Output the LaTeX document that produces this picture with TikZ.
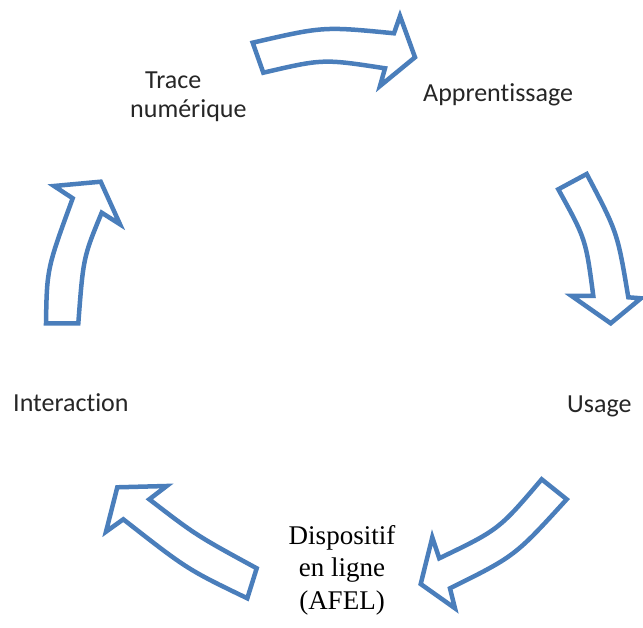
\documentclass[tikz,border=0pt]{standalone}
\usepackage{fontspec}
\setmainfont{Carlito}[Ligatures=NoCommon]
\newfontfamily\seriffont{Liberation Serif}
\definecolor{arrowblue}{RGB}{74,126,187}
\begin{document}
\begin{tikzpicture}[x=1pt,y=-1pt,
  blockarrow/.style={draw=arrowblue,line width=4.5pt,fill=white,miter limit=4},
  lbl/.style={inner sep=0pt,font=\fontsize{26}{29}\selectfont,text=black!85},
  serlbl/.style={inner sep=0pt,align=center,font=\seriffont\fontsize{27}{32.5}\selectfont}]
\useasboundingbox (0,0) rectangle (643,628);
% arrow 1 (top)
\draw[blockarrow] (252.7,42.7) .. controls (323.3,26.4) .. (394,33.3) -- (400,16) -- (415,57.3) -- (380,86) -- (385,68.3) .. controls (323.0,58.8) .. (263.3,72.7) -- cycle;
% arrow 2 (right)
\draw[blockarrow] (558.3,189.3) -- (586.7,174) .. controls (617.5,232.5) .. (628.3,297.3) -- (641,298.3) -- (610.7,323.3) -- (571.7,296) -- (593.3,296) .. controls (585.8,239.1) .. (558.3,189.3) -- cycle;
% arrow 3 (bottom right)
\draw[blockarrow] (541.7,479.3) -- (566.7,499.3) .. controls (514.95,556.1) .. (450,588.3) -- (455,608.3) -- (420.7,584) -- (432.3,537.3) -- (439.3,558.3) .. controls (498.8,529.7) .. (541.7,479.3) -- cycle;
% arrow 4 (bottom left)
\draw[blockarrow] (247.3,598.3) -- (256.7,568.3) .. controls (196.3,535.4) .. (149.3,499.3) -- (166.7,486) -- (117.3,487.3) -- (106,531.7) -- (123.3,519.3) .. controls (187.2,569.3) .. (247.3,598.3) -- cycle;
% arrow 5 (left)
\draw[blockarrow] (46,323.3) -- (78.3,323.3) .. controls (83.3,257.3) .. (101.7,212.7) -- (120,224.3) -- (100.7,181.7) -- (54,186) -- (72.7,198.3) .. controls (46.9,268.7) .. (46,323.3) -- cycle;
% labels
\node[lbl,anchor=base west,align=left] (tr) at (130,118) {\hspace*{15pt}Trace\\numérique};
\node[lbl,anchor=base west] (ap) at (423,102) {Apprentissage};
\node[lbl,anchor=base west] (us) at (567,413) {Usage};
\node[lbl,anchor=base west] (in) at (13,412) {Interaction};
\node[serlbl,anchor=base] (di) at (342,609) {Dispositif\\en ligne\\(AFEL)};
\end{tikzpicture}
\end{document}
